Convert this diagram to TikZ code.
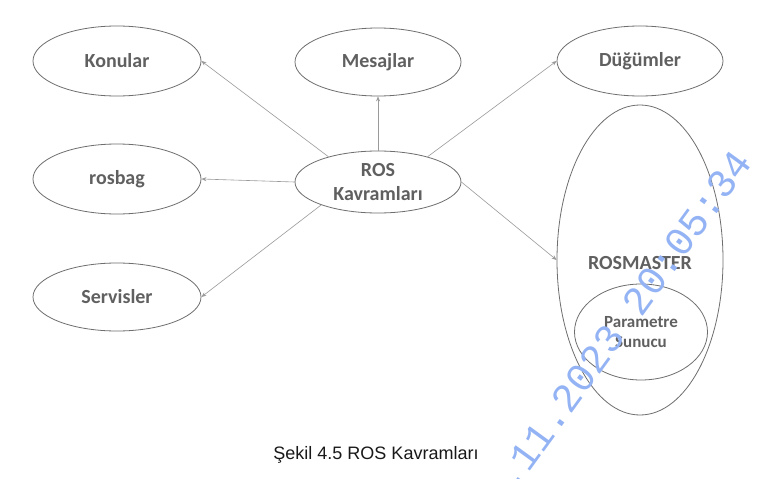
\documentclass[tikz,border=0pt]{standalone}
\usepackage{fontspec}
\newfontfamily\carl{Carlito}
\newfontfamily\capfont{Liberation Sans}
\newfontfamily\wmfont{Liberation Mono}
\usetikzlibrary{shapes.geometric,arrows.meta}
\definecolor{edgegray}{HTML}{6E6E6E}
\definecolor{linegray}{HTML}{9A9A9A}
\definecolor{txtgray}{HTML}{606060}
\definecolor{wmblue}{HTML}{93B3F4}
\begin{document}
\begin{tikzpicture}[x=1pt,y=-1pt,
  ell/.style={ellipse, draw=edgegray, line width=0.8pt, inner sep=0pt},
  lbl/.style={font=\carl\bfseries\fontsize{20}{24}\selectfont, text=txtgray, align=center},
  conn/.style={draw=linegray, line width=0.6pt, -{Stealth[length=5pt,width=4pt]}}]
\useasboundingbox (0,0) rectangle (777,479);
\fill[white] (0,0) rectangle (777,479);
% nodes
\node[ell, minimum width=168pt, minimum height=70pt, lbl] (kon) at (117,61) {Konular};
\node[ell, minimum width=166pt, minimum height=68pt, lbl] (mes) at (378,62) {Mesajlar};
\node[ell, minimum width=166pt, minimum height=70pt, lbl] (dug) at (640,61) {Düğümler};
\node[ell, minimum width=166pt, minimum height=62pt, lbl] (ros) at (378,182) {ROS\\Kavramları};
\node[ell, minimum width=168pt, minimum height=70pt, lbl] (bag) at (117,179) {rosbag};
\node[ell, minimum width=168pt, minimum height=68pt, lbl] (serv) at (117,297) {Servisler};
\node[ell, minimum width=166pt, minimum height=310pt] (master) at (640,260) {};
\node[lbl] (masterlbl) at (640,263) {ROSMASTER};
\node[ell, minimum width=133pt, minimum height=96pt, lbl, font=\carl\bfseries\fontsize{17}{20}\selectfont] (param) at (641,332) {Parametre\\Sunucu};
% connectors
\draw[conn] (ros.153) -- (kon.east);
\draw[conn] (ros.north) -- (mes.south);
\draw[conn] (ros.27) -- (dug.west);
\draw[conn] (ros.west) -- (bag.east);
\draw[conn] (ros.202) -- (serv.east);
\draw[conn] (ros.east) -- (master.west);
% caption
\node[font=\capfont\fontsize{18}{22}\selectfont, text=black!90] (cap) at (376,455) {Şekil 4.5 ROS Kavramları};
% watermark
\node[font=\wmfont\fontsize{40}{40}\selectfont, text=wmblue, rotate=54, anchor=base west, inner sep=0pt] (wm) at (514,493) {.11.2023 20:05:34};
\end{tikzpicture}
\end{document}
